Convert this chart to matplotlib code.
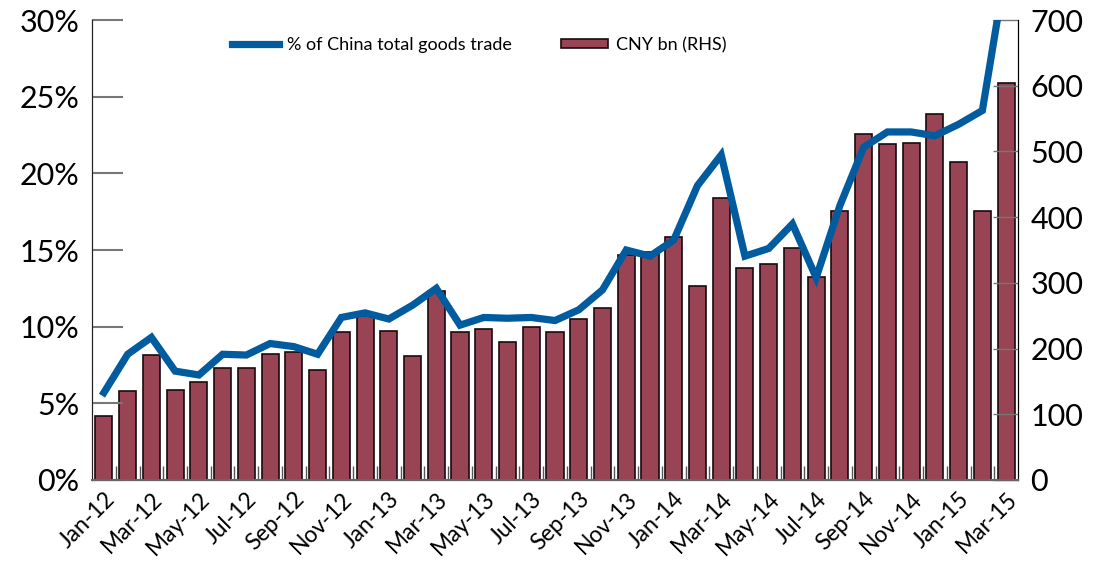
import numpy as np
import matplotlib.pyplot as plt
from matplotlib.ticker import FuncFormatter

plt.rcParams['font.family'] = ['Lato', 'DejaVu Sans']

# monthly data, Jan-12 .. Mar-15
months = ['Jan-12', 'Feb-12', 'Mar-12', 'Apr-12', 'May-12', 'Jun-12', 'Jul-12', 'Aug-12',
          'Sep-12', 'Oct-12', 'Nov-12', 'Dec-12', 'Jan-13', 'Feb-13', 'Mar-13', 'Apr-13',
          'May-13', 'Jun-13', 'Jul-13', 'Aug-13', 'Sep-13', 'Oct-13', 'Nov-13', 'Dec-13',
          'Jan-14', 'Feb-14', 'Mar-14', 'Apr-14', 'May-14', 'Jun-14', 'Jul-14', 'Aug-14',
          'Sep-14', 'Oct-14', 'Nov-14', 'Dec-14', 'Jan-15', 'Feb-15', 'Mar-15']

cny_bn = [97, 135, 190, 137, 149, 170, 170, 192, 195, 167, 225, 249, 227, 189, 288, 225,
          230, 210, 233, 225, 245, 262, 342, 347, 370, 295, 429, 323, 329, 353, 309, 409,
          527, 511, 513, 557, 484, 409, 604]

pct_trade = [5.7, 8.2, 9.3, 7.1, 6.85, 8.2, 8.15, 8.9, 8.7, 8.2, 10.6, 10.9, 10.5, 11.4,
             12.5, 10.1, 10.6, 10.55, 10.6, 10.4, 11.1, 12.4, 15.0, 14.6, 15.65, 19.2, 21.2,
             14.6, 15.1, 16.7, 13.2, 17.9, 21.7, 22.7, 22.7, 22.45, 23.2, 24.1, 33.5]

x = np.arange(len(months))

fig = plt.figure(figsize=(11.01, 5.61), dpi=100)
ax = fig.add_axes([0.0836, 0.1444, 0.8410, 0.8199])
ax2 = ax.twinx()

# bars on the right-hand axis
bars = ax2.bar(x, cny_bn, width=0.72, color='#984454', edgecolor='#1a0a0e', linewidth=1.2,
               label='CNY bn (RHS)')
ax2.set_ylim(0, 700)
ax2.set_yticks(range(0, 701, 100))

# line on the left axis, drawn in front of the bars
line, = ax.plot(x, np.array(pct_trade) / 100, color='#005B9F', linewidth=5.2,
                solid_joinstyle='miter', label='% of China total goods trade')
ax.set_zorder(ax2.get_zorder() + 1)
ax.patch.set_visible(False)
ax.set_ylim(0, 0.30)
ax.set_yticks(np.arange(0, 0.301, 0.05))
ax.yaxis.set_major_formatter(FuncFormatter(lambda v, p: f'{v*100:.0f}%'))

ax.set_xlim(-0.5, len(months) - 0.5)
ax.set_xticks(x[::2])
ax.set_xticklabels(months[::2], rotation=45, ha='right', rotation_mode='anchor', fontsize=16.5)
ax.set_xticks(x[:-1] + 0.5, minor=True)
ax.tick_params(axis='x', which='major', length=0, pad=6)
ax.tick_params(axis='x', which='minor', direction='in', length=10, width=1, color='#555555')
ax.tick_params(axis='y', direction='in', length=22, width=1.5, color='#777777', labelsize=22, pad=9)
ax2.tick_params(axis='y', direction='in', length=18, width=1, color='#777777', labelsize=22, pad=9)

for a in (ax, ax2):
    a.spines['top'].set_visible(False)
ax.spines['left'].set_color('#222222')
ax2.spines['right'].set_color('#222222')
ax.spines['bottom'].set_color('#666666')
ax.spines['bottom'].set_linewidth(1.5)

fig.legend(handles=[line, bars], loc='center left', bbox_to_anchor=(0.211, 0.92), ncol=2,
           frameon=False, fontsize=13, handlelength=2.6, handleheight=0.45,
           columnspacing=2.7, handletextpad=0.45, borderpad=0, borderaxespad=0)

fig.savefig('out.png', dpi=100)
